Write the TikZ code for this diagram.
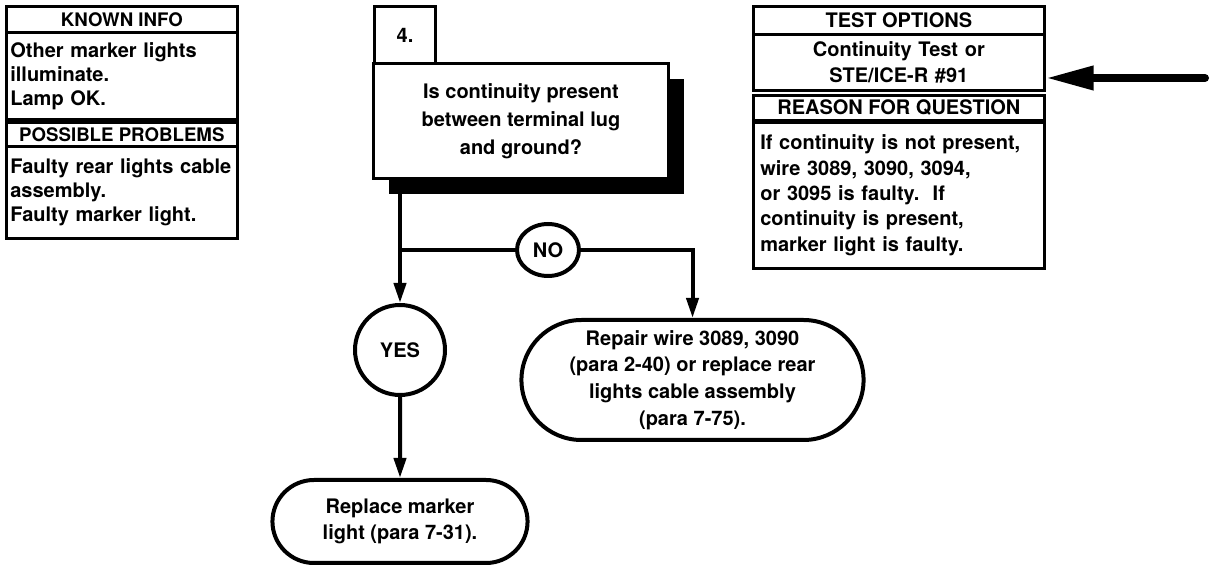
\documentclass[tikz,border=0pt]{standalone}
\usepackage{fontspec}
\setmainfont{TeX Gyre Heros}
\usetikzlibrary{arrows.meta}
\usetikzlibrary{positioning}
\usetikzlibrary{shapes.geometric}
\usetikzlibrary{shapes.misc}
\usetikzlibrary{shadows}

\begin{document}
\begin{tikzpicture}[x=0.75pt,y=-0.75pt,
  txt/.style={font=\fontsize{15}{#1}\selectfont\bfseries},
  sect/.style={draw,line width=2pt,anchor=north west,inner xsep=5.25pt,inner ysep=0pt},
  flow/.style={line width=3pt},
  tip/.style={-{Triangle[length=15pt,width=9pt]}},
  answer/.style={draw,line width=3pt,inner sep=0pt,txt=18pt},
  action/.style={draw,line width=3pt,rounded rectangle,align=center}]
  \useasboundingbox (0,0) rectangle (1211,566);
  % known info / possible problems
  \node[sect,font=\fontsize{14}{18}\selectfont\bfseries,minimum width=173.25pt,minimum height=19.5pt] (knownhd) at (5,5) {KNOWN INFO};
  \node[sect,txt=18pt,inner xsep=3pt,text width=167.25pt,minimum height=65.25pt,align=left] (knownbd) at (5,31) {Other marker lights\\illuminate.\\Lamp OK.};
  \node[sect,font=\fontsize{14}{18}\selectfont\bfseries,minimum width=173.25pt,minimum height=18pt] (possiblehd) at (5,121) {POSSIBLE PROBLEMS};
  \node[sect,txt=18pt,inner xsep=3pt,text width=167.25pt,minimum height=69pt,align=left] (possiblebd) at (5,145) {Faulty rear lights cable\\assembly.\\Faulty marker light.};
  % test options / reason for question
  \node[sect,txt=18pt,minimum width=218.25pt,minimum height=21pt] (testhd) at (752,5) {TEST OPTIONS};
  \node[sect,txt=19.5pt,text width=207.75pt,minimum height=42pt,align=center] (testbd) at (752,33) {Continuity Test or\\STE/ICE-R \#91};
  \node[sect,txt=18pt,minimum width=218.25pt,minimum height=18.75pt] (reasonhd) at (752,94) {REASON FOR QUESTION};
  \node[sect,txt=19pt,text width=207.75pt,minimum height=109.5pt,align=left] (reasonbd) at (752,121) {If continuity is not present,\\wire 3089, 3090, 3094,\\or 3095 is faulty.\ \ If\\continuity is present,\\marker light is faulty.};
  % question 4
  \node[draw,line width=2.25pt,anchor=north west,txt=21pt,align=center,minimum width=221.25pt,minimum height=86.25pt,fill=white,
    drop shadow={shadow xshift=11.5pt,shadow yshift=-12pt,fill=black,opacity=1}] (question) at (372,62)
    {Is continuity present\\between terminal lug\\and ground?};
  \node[draw,line width=2.25pt,anchor=north west,txt=18pt,minimum width=45.75pt,minimum height=42.75pt] (number) at (373,5) {4.};
  \node[answer,ellipse,minimum width=46.5pt,minimum height=39pt] (no) at (548,250) {NO};
  \node[answer,circle,minimum size=67.5pt] (yes) at (400,350) {YES};
  \node[action,txt=20pt,minimum width=263.25pt,minimum height=90pt] (repair) at (692.5,380)
    {Repair wire 3089, 3090\\(para 2-40) or replace rear\\lights cable assembly\\(para 7-75).};
  \node[action,txt=20pt,minimum width=198pt,minimum height=62.25pt] (replace) at (400,521.5)
    {Replace marker\\light (para 7-31).};
  \coordinate (fork) at (yes |- no);
  \coordinate (pointer) at (1205,78);
  \draw[flow](question.south -| fork)--(fork);
  \draw[flow,tip](fork)--(yes);
  \draw[flow](fork)--(no);
  \draw[flow,tip](no)-|(repair);
  \draw[flow,tip](yes)--(replace);
  \draw[line width=6pt,line cap=round,-{Triangle[length=36pt,width=17pt]}](pointer)--(pointer -| testbd.east);
\end{tikzpicture}
\end{document}
